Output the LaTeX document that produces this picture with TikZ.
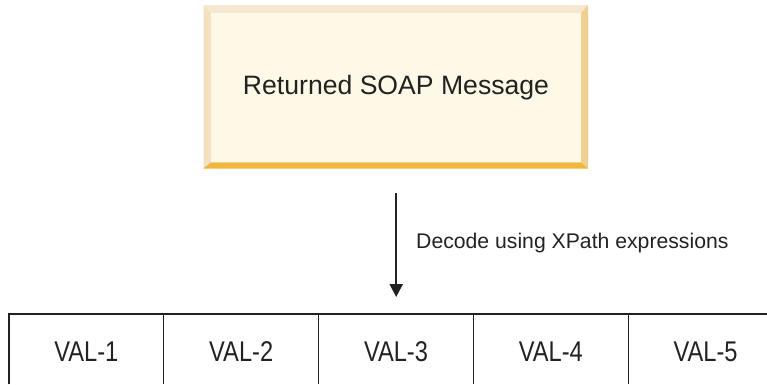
\documentclass[tikz,border=0pt]{standalone}
\usepackage{fontspec}
\setmainfont{Liberation Sans}
\usetikzlibrary{arrows.meta}
\definecolor{faceC}{HTML}{FEF8E6}
\definecolor{bevTop}{HTML}{F5E8D2}
\definecolor{bevLeft}{HTML}{F3E0BE}
\definecolor{bevRight}{HTML}{F2CF8C}
\definecolor{bevBot}{HTML}{F2B63F}
\definecolor{ink}{HTML}{222222}
\tikzset{
  cellbox/.style={anchor=north west, minimum width=154.8pt, minimum height=70pt, inner sep=0pt},
  celltext/.style={font=\fontsize{28.5}{30}\selectfont, text=ink},
  gridline/.style={draw=ink, line width=1.3pt},
  flow/.style={draw=ink, line width=2.3pt, -{Triangle[width=13pt,length=13pt]}}
}
\begin{document}
\begin{tikzpicture}[x=1pt, y=-1pt]
\useasboundingbox (0,0) rectangle (767,384);
% bevelled message box
\fill[bevTop]   (203.5,5) -- (588,5) -- (580.7,13.3) -- (211,13.3) -- cycle;
\fill[bevLeft]  (203.5,5) -- (211,13.3) -- (211,162.3) -- (203.5,168.5) -- cycle;
\fill[bevRight] (588,5) -- (580.7,13.3) -- (580.7,162.3) -- (588,168.5) -- cycle;
\fill[bevBot]   (203.5,168.5) -- (211,162.3) -- (580.7,162.3) -- (588,168.5) -- cycle;
\node[fill=faceC, inner sep=0pt, minimum width=369.7pt, minimum height=149pt] (msg) at (395.85,87.8) {};
\node[anchor=base, font=\fontsize{26.6}{28}\selectfont, text=ink, inner sep=0pt] (msgtext) at (396,94.3) {Returned SOAP Message};
% result cells
\foreach \i in {1,...,5} {
  \node[cellbox] (c\i) at ({9+(\i-1)*154.8},314) {};
  \node[anchor=base, celltext, inner sep=0pt] (t\i) at ({9+(\i-0.5)*154.8},361.7) {\scalebox{0.83}[1]{VAL-\i}};
}
\draw[gridline] (c1.south west) -- (c1.north west) -- (c5.north east);
\foreach \i in {2,...,5} { \draw[gridline] (c\i.north west) -- (c\i.south west); }
% decoding step
\draw[flow, shorten <=30.4pt, shorten >=17pt] (msg.south -| c3.north) -- (c3.north);
\node[anchor=base west, font=\fontsize{21.2}{24}\selectfont, text=ink, inner sep=0pt] (lbl) at (416,248.7) {Decode using XPath expressions};
\end{tikzpicture}
\end{document}
